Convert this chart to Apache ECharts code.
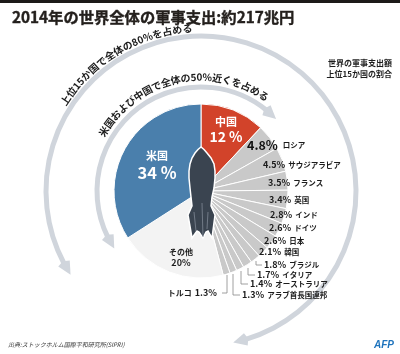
<!DOCTYPE html>
<html>
<head>
<meta charset="utf-8">
<style>
html, body { margin: 0; padding: 0; background: #fff; }
#chart { width: 400px; height: 354px; }
</style>
<script src="https://cdn.jsdelivr.net/npm/echarts@6/dist/echarts.min.js"></script>
</head>
<body>
<div id="chart"></div>
<script>
// clockwise from the top of the pie
const countries = ['中国', 'ロシア', 'サウジアラビア', 'フランス', '英国', 'インド', 'ドイツ', '日本', '韓国', 'ブラジル', 'イタリア', 'オーストラリア', 'アラブ首長国連邦', 'トルコ', 'その他', '米国'];
const shares = [12, 4.8, 4.5, 3.5, 3.4, 2.8, 2.6, 2.6, 2.1, 1.8, 1.7, 1.4, 1.3, 1.3, 20, 34];

const FONT = '"Noto Sans CJK JP", "Noto Sans", sans-serif';
const CX = 201, CY = 191, R = 87;
const INK = '#1c1c1c';
const ARROW = '#d0d5dc';

// where each label sits: x, y, align
const labelSpots = [
    [226, 129, 'center'],
    [247, 145, 'left'],
    [263, 165, 'left'],
    [268, 183, 'left'],
    [269, 200, 'left'],
    [270, 215, 'left'],
    [269, 228, 'left'],
    [264, 241, 'left'],
    [259, 252, 'left'],
    [264, 265, 'left'],
    [257, 275, 'left'],
    [250, 284, 'left'],
    [242, 295, 'left'],
    [220, 293, 'right'],
    [181, 257, 'center'],
    [157, 165, 'center']
];
// leader lines for the thin slices at the bottom
const leaders = {
    9: [[256, 261], [256, 265], [262, 265]],
    10: [[248, 268], [248, 275], [255, 275]],
    11: [[241, 271], [241, 284], [248, 284]],
    12: [[233, 274], [233, 295], [240, 295]],
    13: [[227, 275], [227, 293], [222, 293]]
};

function sliceColor(i) {
    if (i === 0) return '#d2432a';
    if (i === shares.length - 1) return '#4a7fac';
    if (i === shares.length - 2) return '#f3f3f3';
    return '#c9c9c9';
}

function labelText(p) {
    const i = p.dataIndex;
    if (i === 0) return '{head|' + p.name + '}\n{bigCn|' + p.value + ' %}';
    if (i === shares.length - 1) return '{head|' + p.name + '}\n{big|' + p.value + ' %}';
    if (i === shares.length - 2) return '{other|' + p.name + '}\n{otherPct|' + p.value + '%}';
    if (i === 13) return '{turkey|' + p.name + '}{pct|' + p.value + '%}';
    if (i === 1) return '{top|' + p.value + '%}{name|' + p.name + '}';
    return '{pct|' + p.value + '%}{name|' + p.name + '}';
}

// θ is clockwise from the top, in degrees
function polar(r, deg) {
    const a = deg * Math.PI / 180;
    return [CX + r * Math.sin(a), CY - r * Math.cos(a)];
}

function arcArrow(r, from, to, width) {
    const headLen = 13, headHalf = 6.5;
    const dFrom = headLen / r * 180 / Math.PI;
    const toRad = d => (d - 90) * Math.PI / 180;
    const items = [{
        type: 'arc', silent: true,
        shape: { cx: CX, cy: CY, r: r, startAngle: toRad(from + dFrom), endAngle: toRad(to - dFrom), clockwise: true },
        style: { fill: 'none', stroke: ARROW, lineWidth: width }
    }];
    [[from, from + dFrom], [to, to - dFrom]].forEach(function (h) {
        items.push({
            type: 'polygon', silent: true,
            shape: { points: [polar(r, h[0]), polar(r + headHalf, h[1]), polar(r, h[1] + (h[1] - h[0]) * 0.2), polar(r - headHalf, h[1])] },
            style: { fill: ARROW }
        });
    });
    return items;
}

// one text per glyph, bent along the arrow
function arcText(str, r, from, to, font) {
    const ctx = document.createElement('canvas').getContext('2d');
    ctx.font = font;
    const glyphs = Array.from(str);
    const w = glyphs.map(g => ctx.measureText(g).width);
    const total = w.reduce((a, b) => a + b, 0);
    let run = 0;
    return glyphs.map(function (g, i) {
        const deg = from + (to - from) * (run + w[i] / 2) / total;
        run += w[i];
        const pos = polar(r, deg);
        return {
            type: 'text', silent: true, x: pos[0], y: pos[1], rotation: -deg * Math.PI / 180,
            style: { text: g, font: font, fill: INK, align: 'center', verticalAlign: 'middle' }
        };
    });
}

const rocketBody = [[201, 147], [198, 149.5], [195, 153], [192, 158], [190, 164], [189, 171], [189, 178], [190, 188], [191, 197], [192, 206], [188, 215], [192, 238], [197, 231], [199, 232], [203, 238], [206, 232], [208, 231], [212, 238], [215, 215], [211, 206], [212, 197], [214, 188], [215, 178], [215, 171], [214, 164], [211, 158], [207, 153], [204, 149.5]];
const rocketRibs = [[[194, 212], [196, 231]], [[202, 203], [203, 237]], [[208, 212], [207, 229]]];

const graphics = [
    { type: 'rect', silent: true, shape: { x: 0, y: 0, width: 400, height: 3 }, style: { fill: '#1c1a18' } },
    { type: 'text', silent: true, x: 392, y: 63, style: { text: '世界の軍事支出額', font: 'bold 8px ' + FONT, fill: INK, align: 'right', verticalAlign: 'middle' } },
    { type: 'text', silent: true, x: 392, y: 74, style: { text: '上位15か国の割合', font: 'bold 8px ' + FONT, fill: INK, align: 'right', verticalAlign: 'middle' } },
    { type: 'text', silent: true, x: 8, y: 345, style: { text: '出典:ストックホルム国際平和研究所(SIPRI)', font: 'italic 6px ' + FONT, fill: '#333', verticalAlign: 'middle' } },
    { type: 'text', silent: true, x: 374, y: 345, style: { text: 'AFP', font: 'italic bold 10px "Liberation Sans", sans-serif', fill: '#1f74bd', verticalAlign: 'middle' } }
]
    .concat(arcArrow(155, -122.7, 168, 5))
    .concat(arcArrow(104, -123.5, 46.2, 5))
    .concat(arcText('上位15か国で全体の80%を占める', 163, -58, -3, 'bold 10px ' + FONT))
    .concat(arcText('米国および中国で全体の50%近くを占める', 114, -61, 36, 'bold 10px ' + FONT))
    .concat([
        { type: 'polygon', silent: true, z: 10, shape: { points: rocketBody }, style: { fill: '#3a4450', stroke: '#fff', lineWidth: 1.5 } }
    ])
    .concat(rocketRibs.map(pts => ({ type: 'polyline', silent: true, z: 11, shape: { points: pts }, style: { fill: 'none', stroke: '#7f8894', lineWidth: 0.8 } })));

const chart = echarts.init(document.getElementById('chart'), null, { renderer: 'canvas' });
chart.setOption({
    animation: false,
    backgroundColor: '#fff',
    title: {
        text: '2014年の世界全体の軍事支出:約217兆円',
        left: 7, top: 5,
        textStyle: { fontFamily: FONT, fontSize: 15.3, fontWeight: 'bold', color: '#231f1c', textBorderColor: '#231f1c', textBorderWidth: 0.4 }
    },
    graphic: graphics,
    series: [{
        type: 'pie',
        silent: true,
        center: [CX, CY],
        radius: [0, R],
        startAngle: 90,
        clockwise: true,
        avoidLabelOverlap: false,
        itemStyle: { borderColor: '#fff', borderWidth: 1 },
        data: countries.map((name, i) => ({
            name: name,
            value: shares[i],
            itemStyle: { color: sliceColor(i) },
            labelLine: { show: !!leaders[i], lineStyle: { color: '#888', width: 0.8 } }
        })),
        label: {
            show: true,
            position: 'outside',
            formatter: labelText,
            fontFamily: FONT,
            rich: {
                head: { fontFamily: FONT, fontSize: 11, fontWeight: 'bold', color: '#fff', align: 'center', lineHeight: 15 },
                big: { fontFamily: FONT, fontSize: 16.5, fontWeight: 'bold', color: '#fff', align: 'center', lineHeight: 18 },
                bigCn: { fontFamily: FONT, fontSize: 14, fontWeight: 'bold', color: '#fff', align: 'center', lineHeight: 15 },
                other: { fontFamily: FONT, fontSize: 8, fontWeight: 'bold', color: INK, align: 'center', lineHeight: 11 },
                otherPct: { fontFamily: FONT, fontSize: 9, fontWeight: 'bold', color: INK, align: 'center', lineHeight: 11 },
                top: { fontFamily: FONT, fontSize: 12.5, fontWeight: 'bold', color: '#111', padding: [0, 5, 0, 0] },
                pct: { fontFamily: FONT, fontSize: 9, fontWeight: 'bold', color: INK, padding: [0, 3, 0, 0] },
                turkey: { fontFamily: FONT, fontSize: 8, fontWeight: 'bold', color: INK, padding: [0, 3, 0, 0] },
                name: { fontFamily: FONT, fontSize: 7.5, fontWeight: 'bold', color: INK }
            }
        },
        labelLayout: function (p) {
            const s = labelSpots[p.dataIndex];
            const out = { x: s[0], y: s[1], align: s[2], verticalAlign: 'middle' };
            if (leaders[p.dataIndex]) out.labelLinePoints = leaders[p.dataIndex];
            return out;
        }
    }]
});
</script>
</body>
</html>
